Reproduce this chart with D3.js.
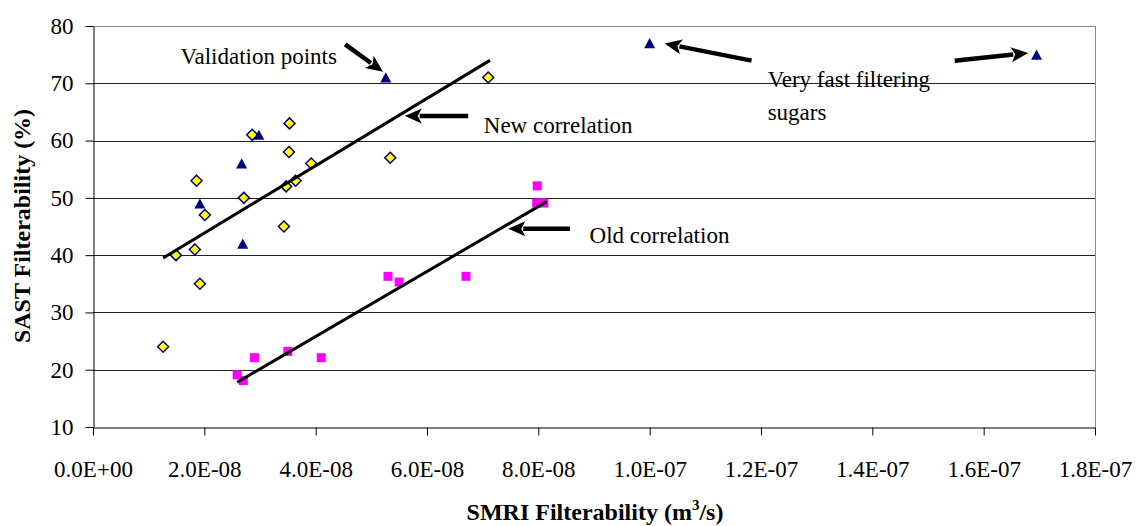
<!DOCTYPE html>
<html lang="en">
<meta charset="utf-8">
<title>SAST vs SMRI Filterability</title>
<script src="https://cdn.jsdelivr.net/npm/d3@7"></script>
<style>
body {
  margin: 0;
  background-color: white;
}
#chart {
  margin: 0;
}
.tickText {
  font-family: "Liberation Serif", "Times New Roman", "DejaVu Serif", serif;
  font-size: 23px;
  fill: black;
}
.axisTitle {
  font-family: "Liberation Serif", "Times New Roman", "DejaVu Serif", serif;
  font-size: 24px;
  font-weight: bold;
  fill: black;
}
.note {
  font-family: "Liberation Serif", "Times New Roman", "DejaVu Serif", serif;
  font-size: 23px;
  fill: black;
}
</style>
<body>
<figure id="chart"></figure>

<script>
    // ---------------------------//
    //       DATA                 //
    // ---------------------------//

    // yellow diamonds: points used for the new correlation
    let newX = [7.1e-8, 3.53e-8, 2.86e-8, 3.52e-8, 3.92e-8, 5.34e-8, 1.86e-8, 3.64e-8,
                3.47e-8, 2.71e-8, 2.01e-8, 3.43e-8, 1.83e-8, 1.49e-8, 1.92e-8, 1.26e-8]
    let newY = [71, 63, 61, 58, 56, 57, 53, 53, 52, 50, 47, 45, 41, 40, 35, 24]

    // navy triangles: validation points
    let valX = [5.26e-8, 2.98e-8, 2.67e-8, 1.92e-8, 2.69e-8, 1.0e-7, 1.695e-7]
    let valY = [71, 61, 56, 49, 42, 77, 75]

    // magenta squares: points of the old correlation
    let oldX = [5.3e-8, 5.5e-8, 6.7e-8, 3.5e-8, 2.9e-8, 4.1e-8, 2.59e-8, 2.7e-8, 7.98e-8, 7.97e-8, 8.1e-8]
    let oldY = [36.3, 35.3, 36.3, 23.2, 22.1, 22.1, 19.1, 18.1, 52.1, 49.1, 49.1]

    // correlation lines (end points)
    let newLineX = [1.26e-8, 7.13e-8]
    let newLineY = [39.5, 74]
    let oldLineX = [2.59e-8, 8.15e-8]
    let oldLineY = [17.8, 49.35]

    // axis ticks
    let xTicks = [0, 2e-8, 4e-8, 6e-8, 8e-8, 1e-7, 1.2e-7, 1.4e-7, 1.6e-7, 1.8e-7]
    let xTickLabels = ["0.0E+00", "2.0E-08", "4.0E-08", "6.0E-08", "8.0E-08",
                       "1.0E-07", "1.2E-07", "1.4E-07", "1.6E-07", "1.8E-07"]
    let yTicks = [10, 20, 30, 40, 50, 60, 70, 80]

    // annotation arrows, in data units: [tailX, tailY, tipX, tipY]
    let arrows = [
      [4.53e-8, 76.8, 5.21e-8, 72.0],
      [6.74e-8, 64.3, 5.60e-8, 64.3],
      [11.83e-8, 73.95, 10.27e-8, 76.95],
      [15.48e-8, 73.95, 16.80e-8, 75.3],
      [8.57e-8, 44.6, 7.46e-8, 44.6]
    ]
    // annotation texts, in data units: [x, y, text]
    let notes = [
      [1.57e-8, 73.4, "Validation points"],
      [7.02e-8, 61.4, "New correlation"],
      [8.92e-8, 42.2, "Old correlation"],
      [12.12e-8, 69.3, "Very fast filtering"],
      [12.12e-8, 63.6, "sugars"]
    ]

    // ---------------------------//
    //       SVG AND SCALES       //
    // ---------------------------//
    let W = 1139, H = 526
    let margin = {top: 26, right: 44, bottom: 99, left: 93}
    let width = W - margin.left - margin.right,
        height = H - margin.top - margin.bottom

    let svg0 = d3.select("#chart")
      .append("svg")
        .attr("width", W)
        .attr("height", H)
    let svg = svg0.append("g")
        .attr("transform", "translate(" + margin.left + "," + margin.top + ")")

    let x = d3.scaleLinear().domain([0, 1.8e-7]).range([0, width])
    let y = d3.scaleLinear().domain([10, 80]).range([height, 0])

    // gridlines
    svg.append("g")
      .selectAll("line")
      .data(yTicks.slice(1))
      .enter()
      .append("line")
        .attr("x1", 0)
        .attr("x2", width)
        .attr("y1", d => Math.round(y(d)) + 0.5)
        .attr("y2", d => Math.round(y(d)) + 0.5)
        .attr("stroke", d => d == 80 ? "#888" : "#222")
        .attr("stroke-width", 1)

    // right border of plot area
    svg.append("line")
      .attr("x1", Math.round(width) + 0.5).attr("x2", Math.round(width) + 0.5)
      .attr("y1", 0).attr("y2", height)
      .attr("stroke", "#888")

    // X axis
    let xAxis = svg.append("g")
      .attr("transform", "translate(0," + (Math.round(height) + 0.5) + ")")
      .call(d3.axisBottom(x).tickValues(xTicks).tickSize(8).tickSizeOuter(0)
              .tickFormat((d, i) => xTickLabels[i]))
    xAxis.attr("font-size", null).attr("font-family", null)
    xAxis.select(".domain").attr("stroke", "black")
    xAxis.selectAll(".tick line").attr("stroke", "black")
    xAxis.selectAll("text")
      .attr("class", "tickText")
      .attr("y", 33)
      .attr("dy", "0.71em")

    // Y axis
    let yAxis = svg.append("g")
      .attr("transform", "translate(0.5,0)")
      .call(d3.axisLeft(y).tickValues(yTicks).tickSize(8).tickSizeOuter(0))
    yAxis.attr("font-size", null).attr("font-family", null)
    yAxis.select(".domain").attr("stroke", "black")
    yAxis.selectAll(".tick line").attr("stroke", "black")
    yAxis.selectAll("text")
      .attr("class", "tickText")
      .attr("x", -20)

    // axis titles
    let xt = svg0.append("text")
      .attr("class", "axisTitle")
      .attr("text-anchor", "middle")
      .attr("x", 595)
      .attr("y", 520)
    xt.append("tspan").text("SMRI Filterability (m")
    xt.append("tspan").text("3").attr("dy", -10).style("font-size", "15px")
    xt.append("tspan").text("/s)").attr("dy", 10)

    svg0.append("text")
      .attr("class", "axisTitle")
      .attr("text-anchor", "middle")
      .attr("transform", "translate(30,226) rotate(-90)")
      .text("SAST Filterability (%)")

    // ---------------------------//
    //       MARKERS              //
    // ---------------------------//
    let diamond = "M0,-5.5L5.5,0L0,5.5L-5.5,0Z"
    let triangle = "M0,-5.2L5.5,5L-5.5,5Z"

    svg.append("g")
      .selectAll("path")
      .data(newX.map((d, i) => [d, newY[i]]))
      .enter()
      .append("path")
        .attr("d", diamond)
        .attr("transform", d => "translate(" + x(d[0]) + "," + y(d[1]) + ")")
        .attr("fill", "#ffff00")
        .attr("stroke", "#000080")
        .attr("stroke-width", 1.5)

    svg.append("g")
      .selectAll("rect")
      .data(oldX.map((d, i) => [d, oldY[i]]))
      .enter()
      .append("rect")
        .attr("x", d => x(d[0]) - 4.5)
        .attr("y", d => y(d[1]) - 4.5)
        .attr("width", 9)
        .attr("height", 9)
        .attr("fill", "#ff00ff")

    svg.append("g")
      .selectAll("path")
      .data(valX.map((d, i) => [d, valY[i]]))
      .enter()
      .append("path")
        .attr("d", triangle)
        .attr("transform", d => "translate(" + x(d[0]) + "," + y(d[1]) + ")")
        .attr("fill", "#000080")

    // ---------------------------//
    //       CORRELATION LINES    //
    // ---------------------------//
    let line = d3.line().x(d => x(d[0])).y(d => y(d[1]))
    svg.append("path")
      .datum(newLineX.map((d, i) => [d, newLineY[i]]))
      .attr("d", line)
      .attr("fill", "none")
      .attr("stroke", "black")
      .attr("stroke-width", 3)
    svg.append("path")
      .datum(oldLineX.map((d, i) => [d, oldLineY[i]]))
      .attr("d", line)
      .attr("fill", "none")
      .attr("stroke", "black")
      .attr("stroke-width", 3)

    // ---------------------------//
    //       ANNOTATIONS          //
    // ---------------------------//
    let headLen = 17, headW = 7.5
    arrows.forEach(a => {
      let x1 = x(a[0]), y1 = y(a[1]), x2 = x(a[2]), y2 = y(a[3])
      let dx = x2 - x1, dy = y2 - y1, L = Math.sqrt(dx * dx + dy * dy)
      let ux = dx / L, uy = dy / L
      let bx = x2 - ux * headLen, by = y2 - uy * headLen
      svg.append("line")
        .attr("x1", x1).attr("y1", y1)
        .attr("x2", bx + ux * 2).attr("y2", by + uy * 2)
        .attr("stroke", "black")
        .attr("stroke-width", 4.5)
      svg.append("path")
        .attr("d", "M" + x2 + "," + y2 +
                   "L" + (bx - uy * headW) + "," + (by + ux * headW) +
                   "L" + (bx + ux * 4) + "," + (by + uy * 4) +
                   "L" + (bx + uy * headW) + "," + (by - ux * headW) + "Z")
        .attr("fill", "black")
    })

    svg.append("g")
      .selectAll("text")
      .data(notes)
      .enter()
      .append("text")
        .attr("class", "note")
        .attr("x", d => x(d[0]))
        .attr("y", d => y(d[1]))
        .text(d => d[2])
</script>
</body>
</html>
